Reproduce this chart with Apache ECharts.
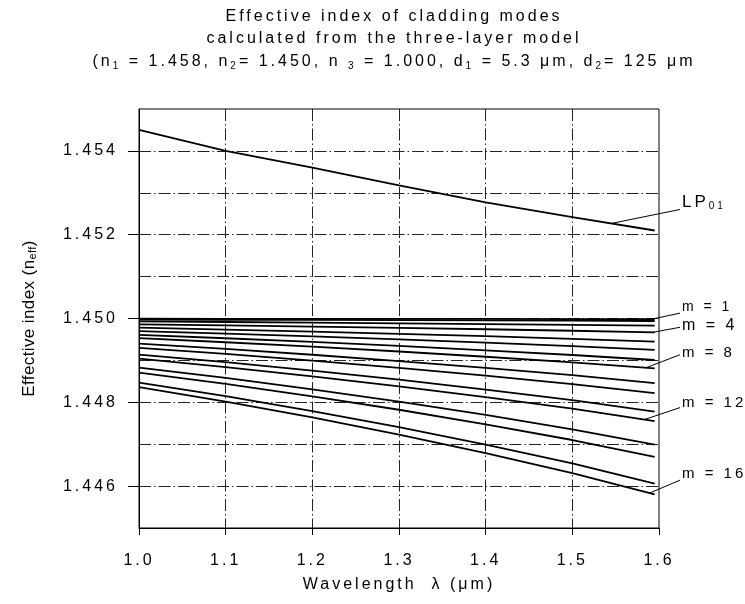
<!DOCTYPE html>
<html>
<head>
<meta charset="utf-8">
<script src="https://cdn.jsdelivr.net/npm/echarts@6/dist/echarts.min.js"></script>
<style>
html,body{margin:0;padding:0;background:#fff;}
#chart{width:745px;height:604px;}
</style>
</head>
<body>
<div id="chart"></div>
<script>
// Tracked lettering (the reference uses wide letter spacing); weight 400 marks untracked text.
(function () {
  var P = CanvasRenderingContext2D.prototype;
  var d = Object.getOwnPropertyDescriptor(P, 'font');
  if (d && d.set && ('letterSpacing' in P)) {
    Object.defineProperty(P, 'font', {
      configurable: true,
      get: function () { return d.get.call(this); },
      set: function (v) {
        d.set.call(this, v);
        this.letterSpacing = /\b400\b/.test(String(v)) ? '0.4px' : '3px';
      }
    });
  }
})();

// ---------------- data ----------------
const titleLine1 = 'Effective index of cladding modes';
const titleLine2 = 'calculated from the three-layer model';
const titleLine3 = '(n{s|1} = 1.458, n{s|2}= 1.450, n {s|3} = 1.000, d{s|1} = 5.3 \u03bcm, d{s|2}= 125 \u03bcm';
const xAxisTitle = 'Wavelength  \u03bb (\u03bcm)';
const yAxisTitle = 'Effective index (n{e|eff})';

const xTickValues = [1.0, 1.1, 1.2, 1.3, 1.4, 1.5, 1.6];
const xTickLabels = ['1.0', '1.1', '1.2', '1.3', '1.4', '1.5', '1.6'];
const yTickValues = [1.446, 1.448, 1.450, 1.452, 1.454];
const yTickLabels = ['1.446', '1.448', '1.450', '1.452', '1.454'];

const wavelengths = [1.0, 1.1, 1.2, 1.3, 1.4, 1.5, 1.595];

const lp01 = [1.4545, 1.4540, 1.4536, 1.45318, 1.45277, 1.45242, 1.4521];

const m1  = [1.449994, 1.449993, 1.449992, 1.449990, 1.449989, 1.449987, 1.449985];
const m2  = [1.449975, 1.449970, 1.449965, 1.449960, 1.449954, 1.449947, 1.449940];
const m3  = [1.449930, 1.449917, 1.449902, 1.449886, 1.449868, 1.449850, 1.449830];
const m4  = [1.449860, 1.449834, 1.449806, 1.449776, 1.449743, 1.449708, 1.449670];
const m5  = [1.449780, 1.449736, 1.449687, 1.449634, 1.449577, 1.449516, 1.449450];
const m6  = [1.449700, 1.449639, 1.449573, 1.449501, 1.449423, 1.449340, 1.449250];
const m7  = [1.449610, 1.449529, 1.449441, 1.449345, 1.449241, 1.449129, 1.449010];
const m8  = [1.449530, 1.449433, 1.449327, 1.449212, 1.449087, 1.448953, 1.448810];
const m9  = [1.449400, 1.449273, 1.449135, 1.448985, 1.448822, 1.448647, 1.448460];
const m10 = [1.449300, 1.449155, 1.448995, 1.448823, 1.448636, 1.448435, 1.448220];
const m11 = [1.449140, 1.448957, 1.448756, 1.448539, 1.448304, 1.448051, 1.447780];
const m12 = [1.449040, 1.448839, 1.448620, 1.448381, 1.448124, 1.447847, 1.447550];
const m13 = [1.448830, 1.448582, 1.448311, 1.448017, 1.447698, 1.447356, 1.446990];
const m14 = [1.448710, 1.448439, 1.448143, 1.447822, 1.447474, 1.447100, 1.446700];
const m15 = [1.448470, 1.448146, 1.447790, 1.447405, 1.446988, 1.446540, 1.446060];
const m16 = [1.448360, 1.448015, 1.447638, 1.447228, 1.446786, 1.446309, 1.445800];

const seriesNames = ['LP01', 'm = 1', 'm = 2', 'm = 3', 'm = 4', 'm = 5', 'm = 6', 'm = 7', 'm = 8',
  'm = 9', 'm = 10', 'm = 11', 'm = 12', 'm = 13', 'm = 14', 'm = 15', 'm = 16'];
const seriesValues = [lp01, m1, m2, m3, m4, m5, m6, m7, m8, m9, m10, m11, m12, m13, m14, m15, m16];

// ---------------- chart ----------------
const FF = "'Liberation Sans', Arial, Helvetica, sans-serif";
const chart = echarts.init(document.getElementById('chart'), null, { renderer: 'canvas' });

function pairs(vals) {
  return wavelengths.map(function (x, i) { return [x, vals[i]]; });
}

const series = seriesValues.map(function (vals, i) {
  return {
    name: seriesNames[i],
    type: 'line',
    data: pairs(vals),
    showSymbol: false,
    symbol: 'none',
    xAxisIndex: 0,
    yAxisIndex: 0,
    lineStyle: { color: '#000', width: 1.8 },
    emphasis: { disabled: true },
    silent: true,
    z: 5
  };
});

const gridLine = { color: '#222', width: 1, type: [12, 3, 1.5, 3] };

chart.setOption({
  animation: false,
  backgroundColor: '#fff',
  title: {
    text: [titleLine1, titleLine2, titleLine3].join('\n'),
    left: 394,
    top: 5,
    padding: 0,
    textAlign: 'center',
    textVerticalAlign: 'top',
    textStyle: {
      fontFamily: FF, fontSize: 16, fontWeight: 'normal', color: '#000', lineHeight: 22.5,
      rich: { s: { fontFamily: FF, fontSize: 10, fontWeight: 'normal', color: '#000', lineHeight: 13, verticalAlign: 'bottom' } }
    }
  },
  grid: {
    left: 139, right: 86, top: 109, bottom: 76,
    show: true, borderColor: '#000', borderWidth: 1, backgroundColor: 'transparent',
    containLabel: false, outerBoundsMode: 'none'
  },
  xAxis: {
    type: 'value', min: 1.0, max: 1.6, interval: 0.1,
    name: xAxisTitle, nameLocation: 'middle', nameGap: 45,
    nameTextStyle: { fontFamily: FF, fontSize: 16, color: '#000', lineHeight: 20 },
    axisLine: { show: true, onZero: false, lineStyle: { color: '#000', width: 1 } },
    axisTick: { show: true, inside: false, length: 7, lineStyle: { color: '#000', width: 1 } },
    axisLabel: {
      margin: 23, fontFamily: FF, fontSize: 16, color: '#000',
      formatter: function (v) {
        const i = xTickValues.findIndex(function (t) { return Math.abs(t - v) < 1e-9; });
        return i >= 0 ? xTickLabels[i] : '';
      }
    },
    splitLine: { show: true, showMinLine: false, showMaxLine: false, lineStyle: gridLine }
  },
  yAxis: [
    {
      type: 'value', min: 1.445, max: 1.455, interval: 0.001, position: 'left',
      axisLine: { show: true, onZero: false, lineStyle: { color: '#000', width: 1 } },
      axisTick: { show: false },
      axisLabel: { show: false },
      splitLine: { show: true, showMinLine: false, showMaxLine: false, lineStyle: gridLine }
    },
    {
      type: 'value', min: 1.445, max: 1.455, interval: 0.001, position: 'left', offset: 0,
      name: yAxisTitle, nameLocation: 'middle', nameGap: 100,
      nameTextStyle: {
        fontFamily: FF, fontSize: 17, fontWeight: 400, color: '#000', lineHeight: 20,
        rich: { e: { fontFamily: FF, fontSize: 11, fontWeight: 400, color: '#000', lineHeight: 12, verticalAlign: 'bottom' } }
      },
      axisLine: { show: false },
      axisTick: { show: true, inside: false, length: 11, customValues: yTickValues, lineStyle: { color: '#000', width: 1 } },
      axisLabel: {
        margin: 21, fontFamily: FF, fontSize: 16, color: '#000', customValues: yTickValues,
        formatter: function (v) {
          const i = yTickValues.findIndex(function (t) { return Math.abs(t - v) < 1e-9; });
          return i >= 0 ? yTickLabels[i] : '';
        }
      },
      splitLine: { show: false }
    }
  ],
  series: series
});

// ---------------- annotations (placed through the chart's own scales) ----------------
const notes = [
  { vals: lp01, at: 1.545, text: 'LP{s|01}', size: 17, lead: -14, txt: -21 },
  { vals: m1,   at: 1.592, text: 'm = 1',    size: 14, lead: -6,  txt: -12 },
  { vals: m4,   at: 1.593, text: 'm = 4',    size: 16, lead: -5,  txt: -7 },
  { vals: m8,   at: 1.585, text: 'm = 8',    size: 15, lead: -13, txt: -15 },
  { vals: m12,  at: 1.583, text: 'm = 12',   size: 15, lead: -12, txt: -17 },
  { vals: m16,  at: 1.589, text: 'm = 16',   size: 15, lead: -13, txt: -19 }
];

function valueAt(vals, x) {
  for (let i = 0; i < wavelengths.length - 1; i++) {
    const a = wavelengths[i], b = wavelengths[i + 1];
    if (x >= a && x <= b) {
      const t = (x - a) / (b - a);
      return vals[i] + (vals[i + 1] - vals[i]) * t;
    }
  }
  return vals[vals.length - 1];
}

const rightPx = chart.convertToPixel({ xAxisIndex: 0 }, 1.6);
const graphics = [];
notes.forEach(function (n) {
  const p = chart.convertToPixel({ xAxisIndex: 0, yAxisIndex: 0 }, [n.at, valueAt(n.vals, n.at)]);
  graphics.push({
    type: 'line', silent: true, z: 10,
    shape: { x1: p[0], y1: p[1], x2: rightPx + 21, y2: p[1] + n.lead },
    style: { stroke: '#000', lineWidth: 1 }
  });
  graphics.push({
    type: 'text', silent: true, z: 10,
    x: rightPx + 23, y: p[1] + n.txt,
    style: {
      text: n.text, fill: '#000', fontFamily: FF, fontSize: n.size, fontWeight: 'normal',
      align: 'left', verticalAlign: 'middle',
      rich: { s: { fontFamily: FF, fontSize: 10, fontWeight: 'normal', fill: '#000', lineHeight: 12, verticalAlign: 'bottom' } }
    }
  });
});
chart.setOption({ graphic: graphics });
</script>
</body>
</html>
